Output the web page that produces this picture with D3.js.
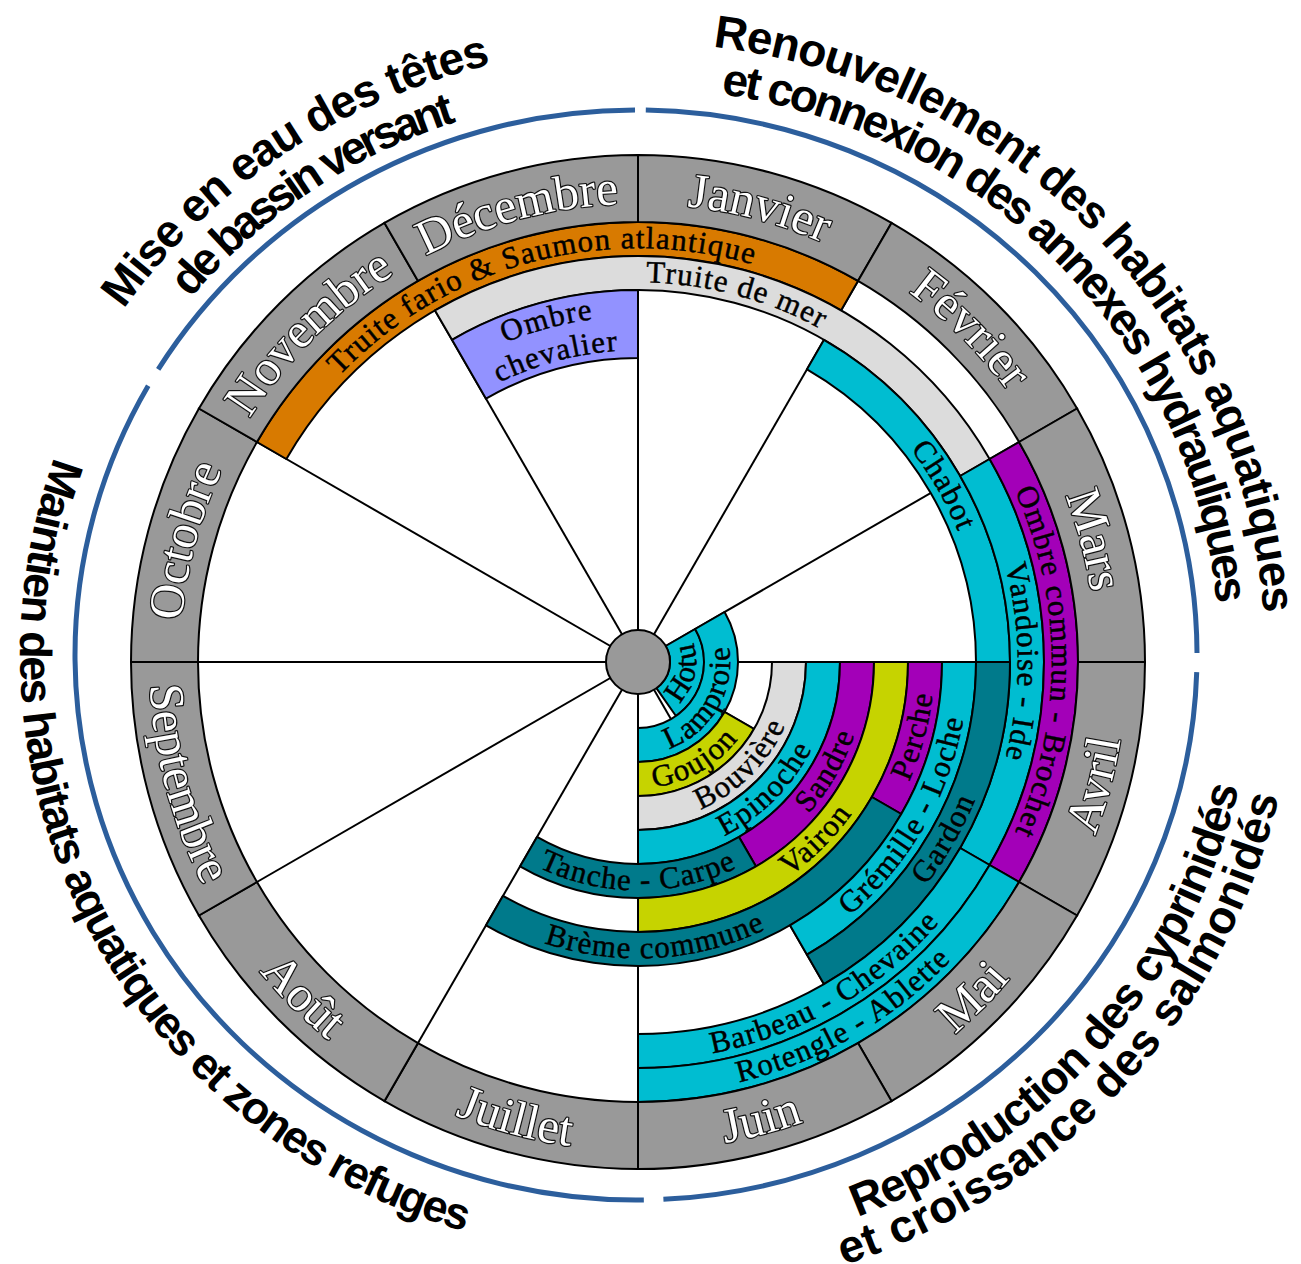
<!DOCTYPE html>
<html><head><meta charset="utf-8">
<script src="https://cdn.jsdelivr.net/npm/d3@7"></script>
<style>body{margin:0;background:#fff}svg{display:block}</style>
</head><body>
<svg id="c" width="1301" height="1264"></svg>
<script>
// ---------- DATA ----------
const months = ["Janvier","Février","Mars","Avril","Mai","Juin","Juillet","Août","Septembre","Octobre","Novembre","Décembre"];

// species bands (month units: 0 = start of Janvier, 12 = end of Décembre; ring 0 = innermost)
const speciesNames = ["Truite fario & Saumon atlantique","Truite de mer","Ombre\nchevalier","Chabot","Vandoise - Ide",
  "Ombre commun - Brochet","Hotu","Lamproie","Goujon","Bouvière","Epinoche","Sandre","Tanche - Carpe","Vairon",
  "Perche","Brème commune","Grémille - Loche","Gardon","Barbeau - Chevaine","Rotengle - Ablette"];
const speciesRing  = [11,10,8,9,10,11,0,1,2,3,4,5,5,6,7,7,8,9,10,11];
const speciesRings = [1,1,2,1,1,1,1,1,1,1,1,1,1,1,1,1,1,1,1,1];
const speciesStart = [10,11,11,1,2,2,2,2,4,3,3,3,5,3,3,4,3,3,4,4];
const speciesEnd   = [13,14,12,3,4,4,4.83,6,6,6,6,5,7,6,4,7,5,5,6,6];
const speciesGroup = ["orange","light","lilac","cyan","cyan","purple","cyan","cyan","yellow","light","cyan","purple",
  "teal","yellow","purple","teal","cyan","teal","cyan","cyan"];

// seasonal themes around the wheel (month units)
const themeLines = [["Mise en eau des têtes","de bassin versant"],
  ["Renouvellement des habitats aquatiques","et connexion des annexes hydrauliques"],
  ["Reproduction des cyprinidés","et croissance des salmonidés"],
  ["Maintien des habitats aquatiques et zones refuges"]];
const themeStart = [10,0,3,6];
const themeEnd   = [12,3,6,10];

// ---------- STYLE / LAYOUT ----------
const colors = {orange:"#d87a00", light:"#dcdcdc", lilac:"#9292ff", cyan:"#00bdd1", purple:"#a300b8",
  yellow:"#c6d300", teal:"#007a8b"};
const cx = 638, cy = 662;
const monthInner = 440, monthOuter = 507;
const spFont = 31, spSpacing = 1.2, monthFont = 49;
const labelShift = {"Brème commune": 0.38};
// outer ellipse for the blue arcs
const ex = 636, ey = 655, ea = 561, eb = 545;
// theme text: baseline offset from the blue ellipse, and polar span (deg, reading order) per line
const themeLayout = [
  {d:[62,16], span:[[304,346.1],[308.7,341]], flip:false, fs:46},
  {d:[68,22], span:[[7.2,86.1],[8.6,84.7]], flip:false, fs:46},
  {d:[57,98], span:[[158.5,102.5],[161.2,102.4]], flip:true, fs:46},
  {d:[55], span:[[288.8,196.7]], flip:true, fs:45}
];
const gapStart = [1.6, 1.0, 1.8, -0.8];
const gapEnd   = [0.1, 0.2, 2.8, 0.4];

const svg = d3.select("#c");
const defs = svg.append("defs");
const g = svg.append("g");

const angle = d3.scaleLinear().domain([0,12]).range([0, 2*Math.PI]);
const ringR = d3.scaleLinear().domain([0,12]).range([32, monthInner]);
const rad = d => d*Math.PI/180, deg = r => r*180/Math.PI;

// spokes
g.append("g").selectAll("line").data(d3.range(months.length)).join("line")
  .attr("x1", cx).attr("y1", cy)
  .attr("x2", i => cx + monthInner*Math.sin(angle(i)))
  .attr("y2", i => cy - monthInner*Math.cos(angle(i)))
  .attr("stroke","#000").attr("stroke-width",2);

// species bands
const bandArc = d3.arc();
const species = speciesNames.map((n,i)=>({name:n, ring:speciesRing[i], n:speciesRings[i], s:speciesStart[i], e:speciesEnd[i], c:colors[speciesGroup[i]]}));
g.append("g").selectAll("path").data(species).join("path")
  .attr("transform",`translate(${cx},${cy})`)
  .attr("d", d => bandArc({innerRadius: ringR(d.ring), outerRadius: ringR(d.ring+d.n), startAngle: angle(d.s), endAngle: angle(d.e)}))
  .attr("fill", d=>d.c).attr("stroke","#000").attr("stroke-width",2).attr("stroke-linejoin","round");

// month ring
g.append("g").selectAll("path").data(months).join("path")
  .attr("transform",`translate(${cx},${cy})`)
  .attr("d",(d,i)=>bandArc({innerRadius:monthInner, outerRadius:monthOuter, startAngle:angle(i), endAngle:angle(i+1)}))
  .attr("fill","#999").attr("stroke","#000").attr("stroke-width",2);

// centre disc
g.append("circle").attr("cx",cx).attr("cy",cy).attr("r",32).attr("fill","#999").attr("stroke","#000").attr("stroke-width",2);

// helpers for text on arcs
let pid = 0;
function circlePath(r, midDeg, flip, half=170){
  const id = "p"+(pid++);
  const p = d3.path();
  const m = rad(midDeg) - Math.PI/2, h = rad(half);
  if(!flip) p.arc(cx, cy, r, m-h, m+h, false);
  else p.arc(cx, cy, r, m+h, m-h, true);
  defs.append("path").attr("id",id).attr("d",p.toString());
  return id;
}
function ellPt(t, a, b){ return [ex + a*Math.sin(rad(t)), ey - b*Math.cos(rad(t))]; }
function polarToParam(phi, a, b){
  let t = deg(Math.atan2(b*Math.sin(rad(phi)), a*Math.cos(rad(phi))));
  while(t < phi-180) t += 360;
  while(t > phi+180) t -= 360;
  return t;
}
function ellArcStr(a, b, t0, t1){
  const p0 = ellPt(t0,a,b), p1 = ellPt(t1,a,b);
  const large = Math.abs(t1-t0) > 180 ? 1 : 0;
  const sweep = t1 > t0 ? 1 : 0;
  return `M${p0[0]},${p0[1]} A${a},${b} 0 ${large} ${sweep} ${p1[0]},${p1[1]}`;
}
function isFlip(midDeg){ const m = ((midDeg%360)+360)%360; return m>90.5 && m<269.5; }

// species labels
const lab = g.append("g").attr("font-family","'Liberation Serif','Times New Roman',serif")
  .attr("font-size",spFont).attr("fill","#000").attr("stroke","#000").attr("stroke-width",0.45)
  .attr("letter-spacing",spSpacing);
species.forEach(d=>{
  const mid = ((d.s+d.e)/2 + (labelShift[d.name]||0))*30;
  const flip = isFlip((d.s+d.e)/2*30);
  const lines = d.name.split("\n");
  const r0 = ringR(d.ring), r1 = ringR(d.ring+d.n);
  const step = (r1-r0)/lines.length;
  lines.forEach((t,k)=>{
    const rc = flip ? r0 + (k+0.5)*step : r1 - (k+0.5)*step;
    const rb = flip ? rc + 0.3*spFont : rc - 0.3*spFont;
    const id = circlePath(rb, mid, flip);
    lab.append("text").attr("text-anchor","middle")
      .append("textPath").attr("href","#"+id).attr("startOffset","50%").text(t);
  });
});

// month labels
const ml = g.append("g").attr("font-family","'Liberation Serif','Times New Roman',serif")
  .attr("font-size",monthFont).attr("fill","#fff").attr("stroke","#111").attr("stroke-width",2.4)
  .attr("paint-order","stroke").attr("stroke-linejoin","round");
months.forEach((m,i)=>{
  const mid = (i+0.5)*30;
  const flip = isFlip(mid);
  const rc = (monthInner+monthOuter)/2;
  const rb = flip ? rc + 0.31*monthFont : rc - 0.31*monthFont;
  const id = circlePath(rb, mid, flip);
  ml.append("text").attr("text-anchor","middle")
    .append("textPath").attr("href","#"+id).attr("startOffset","50%").text(m);
});

// blue theme arcs
themeStart.forEach((s,i)=>{
  const t0 = s*30 + gapStart[i], t1 = themeEnd[i]*30 - gapEnd[i];
  g.append("path").attr("d", ellArcStr(ea, eb, t0, t1))
    .attr("fill","none").attr("stroke","#2c5e9c").attr("stroke-width",5);
});

// theme labels (spacing fitted so each line fills its span)
const tl = g.append("g").attr("font-family","'Liberation Sans',Arial,sans-serif").attr("font-weight","bold")
  .attr("fill","#000");
themeLines.forEach((lines,i)=>{
  const L = themeLayout[i];
  lines.forEach((t,k)=>{
    const a = ea + L.d[k], b = eb + L.d[k];
    const [ph0, ph1] = L.span[k];
    const t0 = polarToParam(ph0,a,b);
    let t1 = polarToParam(ph1,a,b);
    if(!L.flip && t1 < t0) t1 += 360;
    if(L.flip && t1 > t0) t1 -= 360;
    const ext = L.flip ? -6 : 6;
    const id = "p"+(pid++);
    defs.append("path").attr("id",id).attr("d", ellArcStr(a,b,t0,t1+ext));
    const meas = defs.append("path").attr("d", ellArcStr(a,b,t0,t1));
    const target = meas.node().getTotalLength();
    const text = tl.append("text").attr("font-size",L.fs).attr("letter-spacing",0);
    text.append("textPath").attr("href","#"+id).attr("startOffset",0).text(t);
    const natural = text.node().getComputedTextLength();
    text.attr("letter-spacing", (target - natural)/t.length);
  });
});
</script>
</body></html>
